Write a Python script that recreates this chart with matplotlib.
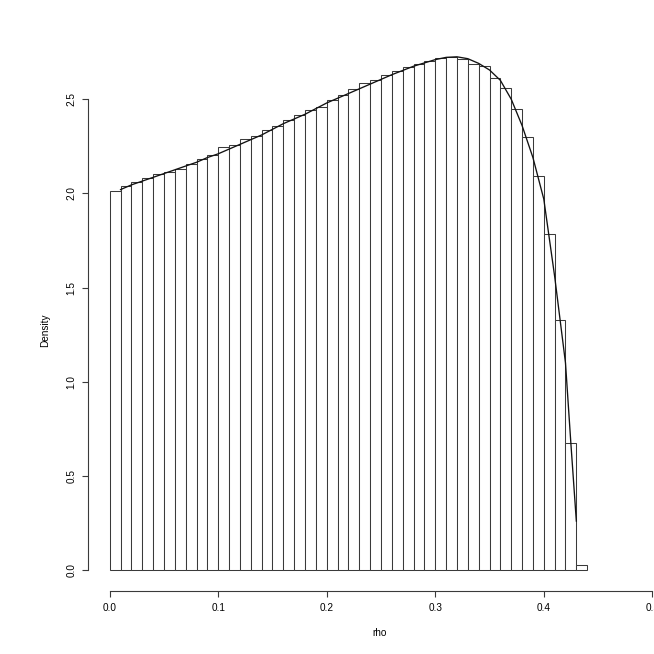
import numpy as np
import matplotlib
matplotlib.use('Agg')
import matplotlib.pyplot as plt

plt.rcParams['font.family'] = ['Liberation Sans', 'DejaVu Sans']

# ============================================================================
# DATA
# ============================================================================
bin_width = 0.01
bin_left = [round(i * bin_width, 2) for i in range(44)]   # 0.00 .. 0.43
density = [2.012, 2.040, 2.058, 2.083, 2.105, 2.111, 2.130, 2.157, 2.185, 2.204,
           2.245, 2.258, 2.286, 2.307, 2.335, 2.357, 2.388, 2.415, 2.442, 2.459,
           2.498, 2.521, 2.553, 2.588, 2.604, 2.627, 2.650, 2.672, 2.689, 2.702,
           2.716, 2.723, 2.712, 2.689, 2.675, 2.610, 2.560, 2.450, 2.300, 2.093,
           1.785, 1.327, 0.672, 0.025]

# fitted density curve
curve_x = [0.01, 0.02, 0.03, 0.04, 0.05, 0.06, 0.07, 0.08, 0.09, 0.10,
           0.12, 0.14, 0.16, 0.18, 0.20, 0.22, 0.24, 0.26, 0.28, 0.30,
           0.31, 0.32, 0.33, 0.34, 0.35, 0.36, 0.37, 0.38, 0.39, 0.40,
           0.41, 0.42, 0.425, 0.43]
curve_y = [2.02, 2.045, 2.065, 2.085, 2.105, 2.125, 2.145, 2.165, 2.19, 2.21,
           2.26, 2.31, 2.37, 2.42, 2.48, 2.53, 2.58, 2.63, 2.675, 2.71,
           2.722, 2.725, 2.715, 2.69, 2.655, 2.60, 2.50, 2.36, 2.19, 1.97,
           1.56, 1.10, 0.67, 0.26]

x_ticks = [0.0, 0.1, 0.2, 0.3, 0.4, 0.5]
y_ticks = [0.0, 0.5, 1.0, 1.5, 2.0, 2.5]

# ============================================================================
# PLOT (R base-graphics look)
# ============================================================================
W = H = 654
fig = plt.figure(figsize=(W / 100, H / 100), dpi=100)
# plot region in pixels: left 88, right 674 (runs past the edge), top 25.5, bottom 591
ax = fig.add_axes([88 / W, (H - 591) / H, (674 - 88) / W, (591 - 25.5) / H])

ax.bar(bin_left, density, width=bin_width, align='edge',
       facecolor='white', edgecolor='#3a3a3a', linewidth=0.75)
ax.plot(curve_x, curve_y, color='#111111', linewidth=0.95)

ax.set_xlim(-0.02, 0.52)
ax.set_ylim(-0.04 * 2.78, 2.78 * 1.04)

for side in ['top', 'right']:
    ax.spines[side].set_visible(False)
ax.spines['bottom'].set_bounds(0, 0.5)
ax.spines['left'].set_bounds(0, 2.5)
for side in ['bottom', 'left']:
    ax.spines[side].set_color('#3a3a3a')
    ax.spines[side].set_linewidth(0.8)

ax.set_xticks(x_ticks)
ax.set_xticklabels([f'{t:.1f}' for t in x_ticks])
ax.set_yticks(y_ticks)
ax.set_yticklabels([f'{t:.1f}' for t in y_ticks], rotation=90, va='center')
ax.tick_params(axis='both', direction='out', length=4.3, width=0.8,
               color='#3a3a3a', labelsize=7.2, pad=4)

ax.set_xlabel('rho', fontsize=7.2)
ax.set_ylabel('Density', fontsize=7.2)
ax.xaxis.set_label_coords((380 - 88) / (674 - 88), -(628 - 591) / (591 - 25.5))
ax.yaxis.set_label_coords(-(88 - 50) / (674 - 88), (591 - 330) / (591 - 25.5))

fig.savefig('out.png', dpi=100)
